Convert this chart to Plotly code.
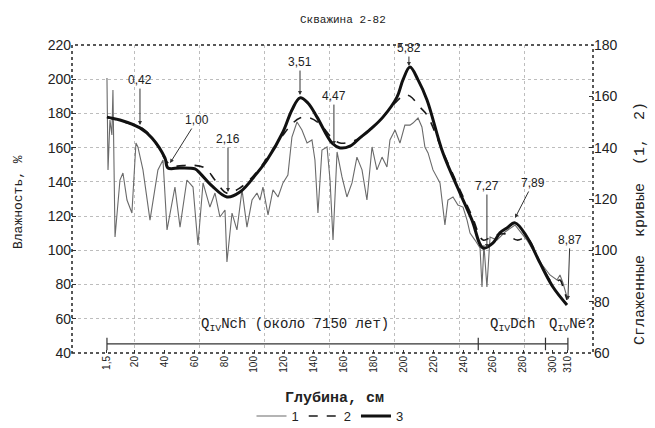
import plotly.graph_objects as go

# ---- data ----
depth_ticks = [1.5, 20, 40, 60, 80, 100, 120, 140, 160, 180, 200, 220, 240, 260, 280, 300, 310]
depth_tick_text = ["1,5", "20", "40", "60", "80", "100", "120", "140", "160", "180", "200",
                   "220", "240", "260", "280", "300", "310"]

# curve 1: raw moisture (left axis, %)
raw_depth = [1.5, 2.2, 3.5, 4.8, 5.5, 6.9, 10.2, 12.2, 14.9, 18.2, 20.9, 22.2, 25.6, 30.3, 35.6,
             39.0, 41.7, 45.0, 47.0, 50.4, 55.0, 59.1, 62.4, 65.8, 70.4, 73.8, 77.1, 80.5, 81.8,
             85.2, 88.5, 91.9, 95.2, 98.6, 101.9, 103.9, 105.9, 109.3, 112.6, 116.0, 119.3, 122.6,
             125.3, 128.7, 132.0, 135.4, 138.7, 140.7, 142.7, 145.4, 148.8, 150.8, 152.8, 155.5,
             158.8, 162.1, 165.5, 168.8, 172.2, 175.5, 178.9, 182.2, 185.6, 188.9, 190.9, 194.3,
             197.6, 200.9, 204.3, 206.3, 209.7, 212.3, 214.3, 216.4, 219.7, 224.4, 227.7, 229.7,
             233.1, 236.4, 239.8, 242.5, 244.5, 247.8, 251.2, 252.5, 253.8, 255.8, 257.9, 262.5,
             267.9, 274.6, 282.6, 291.3, 298.0, 302.7, 304.7, 306.7, 309.4]
raw_moist = [200.7, 147.0, 176.2, 167.4, 193.7, 107.8, 141.1, 145.2, 129.4, 121.8, 162.7, 160.4,
             147.0, 117.7, 147.0, 152.8, 111.9, 127.7, 137.0, 113.6, 141.1, 137.0, 103.1, 139.4,
             125.3, 133.5, 119.5, 123.6, 93.2, 121.8, 111.9, 135.3, 113.6, 129.4, 133.5, 129.4,
             137.0, 120.7, 135.3, 131.2, 139.4, 144.0, 166.2, 175.0, 170.3, 162.7, 164.5, 152.8,
             121.8, 158.6, 160.4, 141.1, 106.0, 157.5, 142.9, 131.2, 139.4, 154.5, 147.0, 129.4,
             160.4, 147.0, 154.5, 148.7, 164.5, 170.3, 162.7, 173.2, 173.2, 174.4, 177.3, 172.1,
             160.4, 156.9, 147.0, 139.4, 114.8, 129.4, 131.2, 126.5, 125.3, 117.7, 110.1, 106.0,
             101.4, 78.6, 103.1, 78.6, 107.8, 106.0, 110.7, 114.8, 106.0, 93.2, 85.6, 82.7, 85.6,
             80.9, 72.7]

# curve 2: smoothed (right axis)
s2_depth = [1.5, 10.2, 23.6, 30.3, 37.0, 41.7, 47.0, 57.1, 67.1, 73.8, 81.8, 90.5, 101.9, 108.6,
            119.3, 125.3, 130.7, 137.4, 144.1, 152.1, 157.5, 164.1, 170.8, 178.9, 186.2, 194.3,
            200.9, 204.3, 211.0, 215.7, 226.4, 237.8, 245.8, 253.2, 259.9, 267.9, 276.0, 282.6,
            291.3, 300.0, 304.7, 306.7, 309.4]
s2_val = [151.9, 150.4, 148.1, 144.9, 139.1, 134.4, 132.9, 133.2, 132.1, 127.4, 122.3, 124.3,
          130.5, 136.0, 144.9, 149.2, 151.6, 151.6, 149.2, 143.8, 141.8, 142.2, 143.8, 147.7,
          151.9, 157.4, 160.5, 160.1, 155.8, 152.7, 138.3, 123.5, 113.4, 104.0, 105.6, 106.4,
          104.0, 104.8, 95.5, 87.3, 88.4, 85.7, 80.7]

# curve 3: smoothed (right axis)
s3_depth = [1.5, 10.2, 23.6, 31.6, 40.3, 42.3, 50.4, 60.4, 63.7, 71.8, 81.8, 90.5, 101.9, 108.6,
            119.3, 125.3, 130.7, 136.0, 142.1, 152.1, 157.5, 164.1, 170.8, 178.9, 186.2, 195.6,
            199.6, 204.3, 209.7, 215.7, 226.4, 237.8, 245.8, 253.2, 259.9, 264.5, 269.2, 274.6,
            282.6, 291.3, 300.0, 309.4]
s3_val = [151.9, 150.8, 147.7, 143.8, 136.0, 132.1, 132.1, 131.7, 130.1, 125.1, 120.8, 122.7,
          130.1, 135.2, 146.1, 154.7, 159.4, 157.4, 151.9, 141.8, 139.9, 140.6, 143.8, 147.7,
          151.9, 159.7, 166.4, 171.4, 166.4, 158.6, 137.9, 122.3, 111.8, 100.9, 102.9, 106.8,
          108.7, 110.7, 105.2, 95.1, 85.7, 78.7]

# labelled points (age marks) on curve 3
mark_text = ["0,42", "1,00", "2,16", "3,51", "4,47", "5,82", "7,27", "7,89", "8,87"]
mark_depth = [23.6, 43.7, 82.5, 130.7, 153.4, 203.6, 255.8, 274.6, 310.0]
mark_val = [148.8, 134.0, 122.7, 160.5, 141.0, 171.8, 100.9, 112.6, 80.7]

# stratigraphic units
unit_bounds = [1.5, 250, 295, 310]
unit_level = 45.3
unit_names = ["Q<sub>IV</sub>Nch (около 7150 лет)", "Q<sub>IV</sub>Dch", "Q<sub>IV</sub>Ne?"]
unit_label_x = [127.3, 272.6, 312.7]
unit_label_y = 56.4

grid_depths = [20, 63.5, 107, 150.5, 194, 237.5, 281]

# ---- figure ----
MONO = "Liberation Mono, Courier New, monospace"
SANS = "Liberation Sans, Arial, sans-serif"
XR = [-21.9, 326.8]
L, R, T, B = 72, 62, 45, 75
PW, PH = 655 - L - R, 428 - T - B

fig = go.Figure()
fig.add_trace(go.Scatter(x=raw_depth, y=raw_moist, mode="lines", name="1",
                         line=dict(color="#6a6a6a", width=1.1)))
fig.add_trace(go.Scatter(x=s2_depth, y=s2_val, mode="lines", name="2", yaxis="y2",
                         line=dict(color="#1a1a1a", width=1.6, dash="dash", shape="spline")))
fig.add_trace(go.Scatter(x=s3_depth, y=s3_val, mode="lines", name="3", yaxis="y2",
                         line=dict(color="#111111", width=3, shape="spline")))
fig.add_trace(go.Scatter(x=unit_bounds, y=[unit_level] * len(unit_bounds), mode="lines+markers",
                         xaxis="x2", showlegend=False, hoverinfo="skip",
                         line=dict(color="#333", width=1.2),
                         marker=dict(symbol="line-ns-open", size=9, color="#333",
                                     line=dict(width=1.2, color="#333"))))

annotations = []
offsets = [(0, -45), (27, -43), (0, -53), (0, -33), (0, -49), (0, -18), (0, -62), (18, -35), (2, -60)]
for t, xv, yv, (ax, ay) in zip(mark_text, mark_depth, mark_val, offsets):
    annotations.append(dict(x=xv, y=yv, xref="x", yref="y2", text=t, showarrow=True,
                            ax=ax, ay=ay, arrowhead=2, arrowsize=0.8, arrowwidth=1,
                            arrowcolor="#333", font=dict(family=SANS, size=12, color="#222")))
for nm, xv in zip(unit_names, unit_label_x):
    annotations.append(dict(x=xv, y=unit_label_y, xref="x", yref="y", text=nm, showarrow=False,
                            font=dict(family=MONO, size=14, color="#222")))
annotations += [
    dict(x=(343 - L) / PW, y=1 + (T - 20) / PH, xref="paper", yref="paper", text="Скважина 2-82",
         showarrow=False, xanchor="center", yanchor="middle",
         font=dict(family=MONO, size=11, color="#222")),
    dict(x=(334 - L) / PW, y=-(398 - (T + PH)) / PH, xref="paper", yref="paper",
         text="<b>Глубина, см</b>", showarrow=False, xanchor="center", yanchor="middle",
         font=dict(family=MONO, size=15, color="#222")),
    dict(x=-(L - 18) / PW, y=(T + PH - 202) / PH, xref="paper", yref="paper", text="Влажность, %",
         showarrow=False, textangle=-90, xanchor="center", yanchor="middle",
         font=dict(family=MONO, size=13, color="#222")),
    dict(x=1 + (640 - (L + PW)) / PW, y=(T + PH - 224) / PH, xref="paper", yref="paper",
         text="Сглаженные  кривые  (1,  2)", showarrow=False, textangle=-90,
         xanchor="center", yanchor="middle",
         font=dict(family=MONO, size=15, color="#222")),
]

fig.update_layout(
    width=655, height=428,
    margin=dict(l=L, r=R, t=T, b=B),
    plot_bgcolor="white", paper_bgcolor="white",
    annotations=annotations,
    legend=dict(orientation="h", x=(330 - L) / PW, xanchor="center", yref="container",
                y=(428 - 416) / 428, yanchor="middle",
                font=dict(family=SANS, size=13, color="#222"),
                bgcolor="rgba(0,0,0,0)", itemwidth=30, tracegroupgap=0),
    xaxis=dict(range=XR, tickvals=depth_ticks, ticktext=depth_tick_text, tickangle=-90,
               showgrid=False, zeroline=False, ticks="inside", ticklen=3, tickcolor="#333",
               automargin=False, tickfont=dict(family=SANS, size=10, color="#222")),
    xaxis2=dict(range=XR, overlaying="x", tickvals=grid_depths, showticklabels=False,
                showgrid=True, gridcolor="#bdbdbd", griddash="dot", gridwidth=1, zeroline=False,
                ticks=""),
    yaxis=dict(range=[40, 220], tickvals=list(range(40, 221, 20)), showgrid=True,
               gridcolor="#bdbdbd", griddash="dot", zeroline=False, ticks="inside", ticklen=4,
               automargin=False, tickcolor="#333", tickfont=dict(family=SANS, size=14, color="#222")),
    yaxis2=dict(range=[60, 180], tickvals=list(range(60, 181, 20)), overlaying="y", side="right",
                showgrid=False, zeroline=False, ticks="inside", ticklen=4, tickcolor="#333",
                automargin=False, tickfont=dict(family=SANS, size=14, color="#222")),
    shapes=[dict(type="rect", xref="paper", yref="paper", x0=0, x1=1, y0=0, y1=1,
                 line=dict(color="#222", width=1.5, dash="dot"), layer="above")],
)

fig.write_html("out.html", config={"displayModeBar": False},
               post_script="document.body.style.margin='0';document.body.style.padding='0';")
